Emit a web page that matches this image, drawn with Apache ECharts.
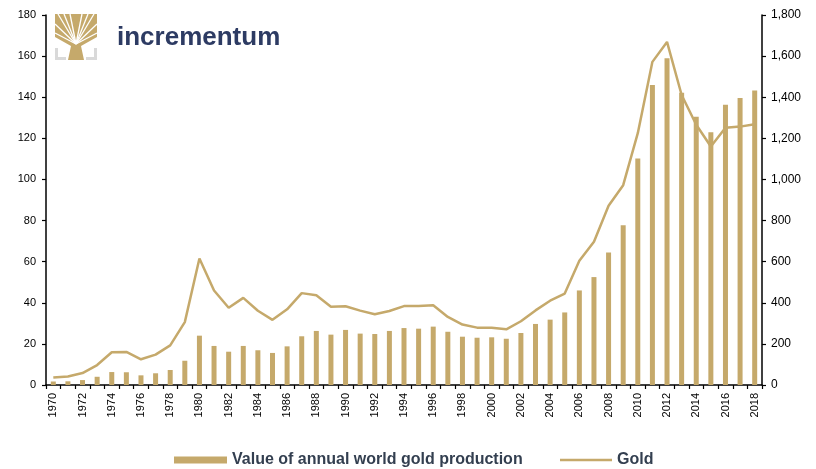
<!DOCTYPE html>
<html>
<head>
<meta charset="utf-8">
<script src="https://cdn.jsdelivr.net/npm/echarts@6/dist/echarts.min.js"></script>
<style>
  html, body { margin: 0; padding: 0; background: #ffffff; }
  #chart { width: 816px; height: 469px; }
</style>
</head>
<body>
<div id="chart"></div>
<script>
// Years on the category axis
const years = ['1970','1971','1972','1973','1974','1975','1976','1977','1978','1979',
  '1980','1981','1982','1983','1984','1985','1986','1987','1988','1989',
  '1990','1991','1992','1993','1994','1995','1996','1997','1998','1999',
  '2000','2001','2002','2003','2004','2005','2006','2007','2008','2009',
  '2010','2011','2012','2013','2014','2015','2016','2017','2018'];

// Value of annual world gold production (USD bn, left axis)
const productionValue = [1.7, 1.8, 2.4, 4.0, 6.3, 6.2, 4.7, 5.7, 7.3, 11.8,
  24.0, 19.0, 16.2, 19.0, 16.9, 15.6, 18.8, 23.7, 26.3, 24.5,
  26.8, 25.0, 24.8, 26.3, 27.7, 27.4, 28.4, 25.9, 23.5, 23.0,
  23.2, 22.5, 25.3, 29.7, 31.8, 35.3, 46.0, 52.5, 64.5, 77.7,
  110.2, 145.9, 158.9, 142.2, 130.5, 122.9, 136.3, 139.6, 143.3];

// Annual average gold price (USD/oz, right axis)
const goldPrice = [36, 41, 58, 97, 159, 161, 125, 148, 193, 306,
  615, 460, 376, 424, 361, 317, 368, 447, 437, 381,
  383, 362, 344, 360, 384, 384, 388, 331, 294, 279,
  279, 271, 310, 363, 410, 445, 604, 697, 872, 972,
  1225, 1572, 1669, 1411, 1266, 1160, 1251, 1257, 1268];

const seriesNames = ['Value of annual world gold production', 'Gold'];

const gold = '#C5A96B';
const axisColor = '#000000';
const textFont = 'Liberation Sans, Arial, sans-serif';

const chart = echarts.init(document.getElementById('chart'), null, { renderer: 'canvas' });

// Brand mark: stylised tree with grey corner brackets
const branchLines = [
  [76, 44, 58, 14], [76, 44, 64, 14], [76, 44, 70, 14],
  [76, 44, 82, 14], [76, 44, 88, 14], [76, 44, 94, 14],
  [76, 44, 55, 24], [76, 44, 97, 24], [76, 44, 55, 33], [76, 44, 97, 33]
];
const logo = [
  {
    type: 'polygon',
    shape: { points: [[68, 60], [84, 60], [81, 46], [97, 37], [97, 14], [55, 14], [55, 37], [71, 46]] },
    style: { fill: gold }
  }
].concat(branchLines.map(l => ({
  type: 'line',
  shape: { x1: l[0], y1: l[1], x2: l[2], y2: l[3] },
  style: { stroke: '#ffffff', lineWidth: 1.3 }
}))).concat([
  { type: 'polygon', shape: { points: [[55, 48], [58, 48], [58, 57], [66, 57], [66, 60], [55, 60]] }, style: { fill: '#d9d9d9' } },
  { type: 'polygon', shape: { points: [[97, 48], [94, 48], [94, 57], [86, 57], [86, 60], [97, 60]] }, style: { fill: '#d9d9d9' } },
  {
    type: 'text', left: 117, top: 25,
    style: { text: 'incrementum', fill: '#2d3b63', font: 'bold 26px ' + textFont }
  }
]);

chart.setOption({
  animation: false,
  backgroundColor: '#ffffff',
  grid: { left: 46, right: 54, top: 15, bottom: 84, containLabel: false },
  legend: [
    {
      data: [{ name: seriesNames[0], icon: 'rect' }],
      left: 169, top: 447,
      itemWidth: 53, itemHeight: 7, itemGap: 6,
      textStyle: { fontFamily: textFont, fontWeight: 'bold', fontSize: 16, color: '#333f50' }
    },
    {
      data: [{ name: seriesNames[1], icon: 'rect' }],
      left: 555, top: 447,
      itemWidth: 52, itemHeight: 2.5, itemGap: 6,
      textStyle: { fontFamily: textFont, fontWeight: 'bold', fontSize: 16, color: '#333f50' }
    }
  ],
  xAxis: {
    type: 'category',
    data: years,
    boundaryGap: true,
    axisLine: { lineStyle: { color: axisColor, width: 1.5 } },
    axisTick: { show: true, interval: 0, length: 4, lineStyle: { color: axisColor, width: 1.2 } },
    axisLabel: { interval: 1, rotate: 90, margin: 8, fontFamily: textFont, fontSize: 11, color: '#000' },
    splitLine: { show: false }
  },
  yAxis: [
    {
      type: 'value', min: 0, max: 180, interval: 20,
      axisLine: { show: true, lineStyle: { color: axisColor, width: 1.5 } },
      axisTick: { show: true, length: 4, lineStyle: { color: axisColor, width: 1.2 } },
      axisLabel: { margin: 10, fontFamily: textFont, fontSize: 11, color: '#000' },
      splitLine: { show: false }
    },
    {
      type: 'value', min: 0, max: 1800, interval: 200, position: 'right',
      axisLine: { show: true, lineStyle: { color: axisColor, width: 1.5 } },
      axisTick: { show: true, length: 4, lineStyle: { color: axisColor, width: 1.2 } },
      axisLabel: {
        margin: 9, fontFamily: textFont, fontSize: 12, color: '#000',
        formatter: v => v.toLocaleString('en-US')
      },
      splitLine: { show: false }
    }
  ],
  series: [
    {
      name: seriesNames[0],
      type: 'bar',
      yAxisIndex: 0,
      data: productionValue,
      barWidth: 5,
      itemStyle: { color: gold }
    },
    {
      name: seriesNames[1],
      type: 'line',
      yAxisIndex: 1,
      data: goldPrice,
      symbol: 'none',
      lineStyle: { color: gold, width: 2.5 },
      itemStyle: { color: gold }
    }
  ],
  graphic: logo
});
</script>
</body>
</html>
